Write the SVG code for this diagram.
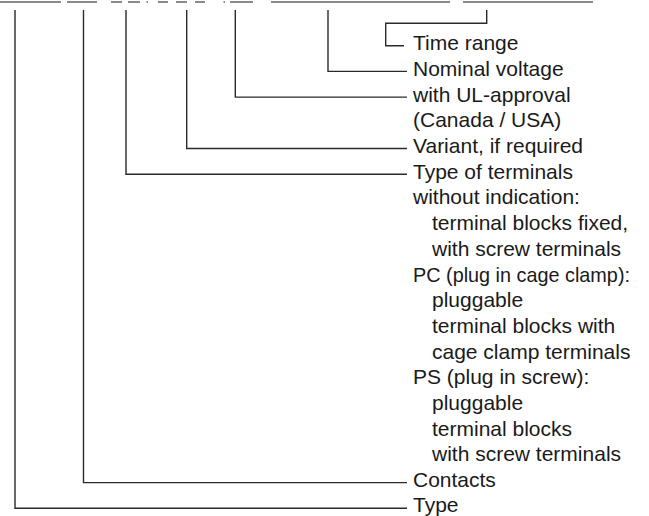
<svg xmlns="http://www.w3.org/2000/svg" width="649" height="516" viewBox="0 0 649 516">
<style>
.bg{fill:#ffffff}
.c{fill:none;stroke:#2a2a2a;stroke-width:1.4}
.top{fill:none;stroke:#8a8a8a;stroke-width:2}
.t{font-family:"Liberation Sans",Arial,sans-serif;font-size:21px;fill:#1a1a1a}
</style>
<rect class="bg" x="0" y="0" width="649" height="516"/>
<g id="header-remnant">
<path class="top" d="M0 2H61M67 2H97M111 2H122M128 2H140M158 2H168M176 2H187M195 2H205M230 2H253M271 2H450M463 2H593"/>
<path class="top" d="M146.5 2H148M223.5 2H225"/>
</g>
<g id="connectors">
<path class="c" d="M486.7 10V23.3H385.7V45.7H404"/>
<path class="c" d="M328 10V71.4H407"/>
<path class="c" d="M235.3 10V97.1H407"/>
<path class="c" d="M186.7 10V148.5H407"/>
<path class="c" d="M126 10V174.2H407"/>
<path class="c" d="M83.5 10V482.6H407"/>
<path class="c" d="M15 10V508.3H407"/>
</g>
<g id="node-time-range"><text class="t" x="413" y="50.2">Time range</text></g>
<g id="node-nominal-voltage"><text class="t" x="413" y="75.9">Nominal voltage</text></g>
<g id="node-ul-approval"><text class="t" x="413" y="101.6">with UL-approval</text><text class="t" x="413" y="127.3">(Canada / USA)</text></g>
<g id="node-variant"><text class="t" x="413" y="153">Variant, if required</text></g>
<g id="node-type-of-terminals">
<text class="t" x="413" y="178.7">Type of terminals</text>
<text class="t" x="413" y="204.4">without indication:</text>
<text class="t" x="432" y="230.1">terminal blocks fixed,</text>
<text class="t" x="432" y="255.8">with screw terminals</text>
<text class="t" x="413" y="281.5" textLength="217" lengthAdjust="spacingAndGlyphs">PC (plug in cage clamp):</text>
<text class="t" x="432" y="307.2">pluggable</text>
<text class="t" x="432" y="332.9">terminal blocks with</text>
<text class="t" x="432" y="358.6">cage clamp terminals</text>
<text class="t" x="413" y="384.3">PS (plug in screw):</text>
<text class="t" x="432" y="410">pluggable</text>
<text class="t" x="432" y="435.7">terminal blocks</text>
<text class="t" x="432" y="461.4">with screw terminals</text>
</g>
<g id="node-contacts"><text class="t" x="413" y="487.1">Contacts</text></g>
<g id="node-type"><text class="t" x="413" y="511.6">Type</text></g>
</svg>
